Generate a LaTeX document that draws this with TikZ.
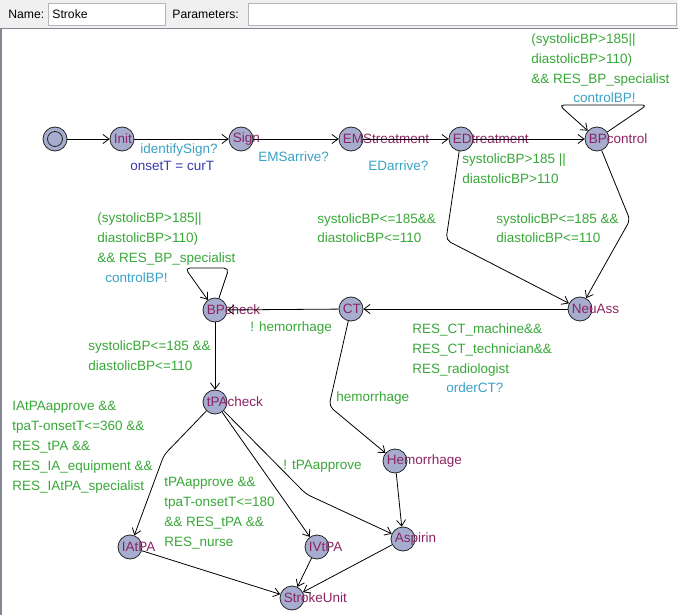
\documentclass[tikz,border=0pt]{standalone}
\usepackage{fontspec}
\setmainfont{Liberation Sans}
\usetikzlibrary{arrows.meta}
\definecolor{locfill}{RGB}{166,173,206}
\definecolor{namecol}{RGB}{140,36,100}
\definecolor{guardcol}{RGB}{56,168,56}
\definecolor{synccol}{RGB}{58,162,196}
\definecolor{assigncol}{RGB}{58,58,178}
\definecolor{panel}{RGB}{240,240,240}
\definecolor{framecol}{RGB}{130,135,145}
\newcommand{\lblfont}{\fontsize{13.5}{20}\selectfont}
\newcommand{\hdrfont}{\fontsize{12.2}{14}\selectfont}
\tikzset{
  loc/.style={circle, draw=black!85, fill=locfill, minimum size=24pt, inner sep=0pt},
  lname/.style={xshift=-21pt, inner sep=0pt, text=namecol, font=\lblfont},
  guard/.style={text=guardcol, font=\lblfont, align=left, inner sep=0pt, anchor=base west},
  sync/.style={guard, text=synccol},
  assign/.style={guard, text=assigncol},
  edge/.style={draw, ->, rounded corners=5pt},
  hdr/.style={anchor=west, inner sep=0pt, font=\hdrfont}
}

\begin{document}
\begin{tikzpicture}[x=1pt, y=-1pt, line width=0.8pt, label distance=0pt,
    >={Straight Barb[length=6pt,width=9pt]}]
\useasboundingbox (0,0) rectangle (678,615);
% header bar
\fill[panel] (0,0) rectangle (678,28);
\draw[framecol!60, line width=0.6pt, fill=white] (48.5,3.5) rectangle (165.5,25.5);
\draw[framecol!60, line width=0.6pt, fill=white] (248.5,3.5) rectangle (676,25.5);
\node[hdr] (namelbl) at (8,14) {Name:};
\node[hdr] (nameval) at (52,14) {Stroke};
\node[hdr] (parlbl) at (172,14) {Parameters:};
\fill[white] (1.5,28.5) rectangle (678,615);
\draw[framecol, line width=1.2pt] (1,615) -- (1,28.6) -- (678,28.6);

% locations
\node[loc] (start) at (55,139) {};
\draw[black!85] (start.center) circle (7.5pt);
\node[loc, label={[lname]right:Init}] (init) at (122,139) {};
\node[loc, label={[lname]right:Sign}] (sign) at (241,139) {};
\node[loc, label={[lname]right:EMStreatment}] (ems) at (351,139) {};
\node[loc, label={[lname]right:EDtreatment}] (edt) at (461,139) {};
\node[loc, label={[lname]right:BPcontrol}] (bpc) at (597,139) {};
\node[loc, label={[lname]right:NeuAss}] (neu) at (580,309) {};
\node[loc, label={[lname]right:CT}] (ct) at (351,309) {};
\node[loc, label={[lname]right:BPcheck}] (bpk) at (215,310) {};
\node[loc, label={[lname]right:tPAcheck}] (tpa) at (215,402) {};
\node[loc, label={[lname]right:Hemorrhage}] (hem) at (395,461) {};
\node[loc, label={[lname]right:IAtPA}] (iat) at (130,547) {};
\node[loc, label={[lname]right:IVtPA}] (ivt) at (317,547) {};
\node[loc, label={[lname]right:Aspirin}] (asp) at (403,539) {};
\node[loc, label={[lname]right:StrokeUnit}] (stu) at (292,598) {};

% transitions
\path[edge] (start) -- (init);
\path[edge] (init) -- (sign);
\path[edge] (sign) -- (ems);
\path[edge] (ems) -- (edt);
\path[edge] (edt) -- (bpc);
\path[edge] (bpc) -- (647,105) -- (559,105) -- (bpc);
\path[edge] (edt) -- (446,240) -- (neu);
\path[edge] (bpc) -- (630,220) -- (neu);
\path[edge] (neu) -- (ct);
\path[edge] (ct) -- (bpk);
\path[edge] (bpk) -- (229,268) -- (185,268) -- (bpk);
\path[edge] (bpk) -- (tpa);
\path[edge] (ct) -- (329,406) -- (hem);
\path[edge] (tpa) -- (164,455) -- (iat);
\path[edge] (tpa) -- (ivt);
\path[edge] (tpa) -- (306,494) -- (asp);
\path[edge] (hem) -- (asp);
\path[edge] (iat) -- (stu);
\path[edge] (ivt) -- (stu);
\path[edge] (asp) -- (stu);

% guards, syncs and updates (multi-line: base = last line)
\node[sync] (s1) at (140,154) {identifySign?};
\node[assign] (u1) at (130,171) {onsetT = curT};
\node[sync] (s2) at (258,162) {EMSarrive?};
\node[sync] (s3) at (368,171) {EDarrive?};
\node[guard] (g1) at (462,184) {systolicBP>185 ||\\diastolicBP>110};
\node[guard] (g2) at (531,84) {(systolicBP>185||\\diastolicBP>110)\\\&\& RES\_BP\_specialist};
\node[sync] (s4) at (573,103) {controlBP!};
\node[guard] (g3) at (317,243) {systolicBP<=185\&\&\\diastolicBP<=110};
\node[guard] (g4) at (496,243) {systolicBP<=185 \&\&\\diastolicBP<=110};
\node[guard] (g5) at (412,373) {RES\_CT\_machine\&\&\\RES\_CT\_technician\&\&\\RES\_radiologist};
\node[sync] (s5) at (446,392) {orderCT?};
\node[guard] (g6) at (250,331) {! hemorrhage};
\node[guard] (g7) at (97,262) {(systolicBP>185||\\diastolicBP>110)\\\&\& RES\_BP\_specialist};
\node[sync] (s6) at (105,282) {controlBP!};
\node[guard] (g8) at (88,370) {systolicBP<=185 \&\&\\diastolicBP<=110};
\node[guard] (g9) at (336,401) {hemorrhage};
\node[guard] (g10) at (12,490) {IAtPAapprove \&\&\\tpaT-onsetT<=360 \&\&\\RES\_tPA \&\&\\RES\_IA\_equipment \&\&\\RES\_IAtPA\_specialist};
\node[guard] (g11) at (164,546) {tPAapprove \&\&\\tpaT-onsetT<=180\\\&\& RES\_tPA \&\&\\RES\_nurse};
\node[guard] (g12) at (283,469) {! tPAapprove};
\end{tikzpicture}
\end{document}
